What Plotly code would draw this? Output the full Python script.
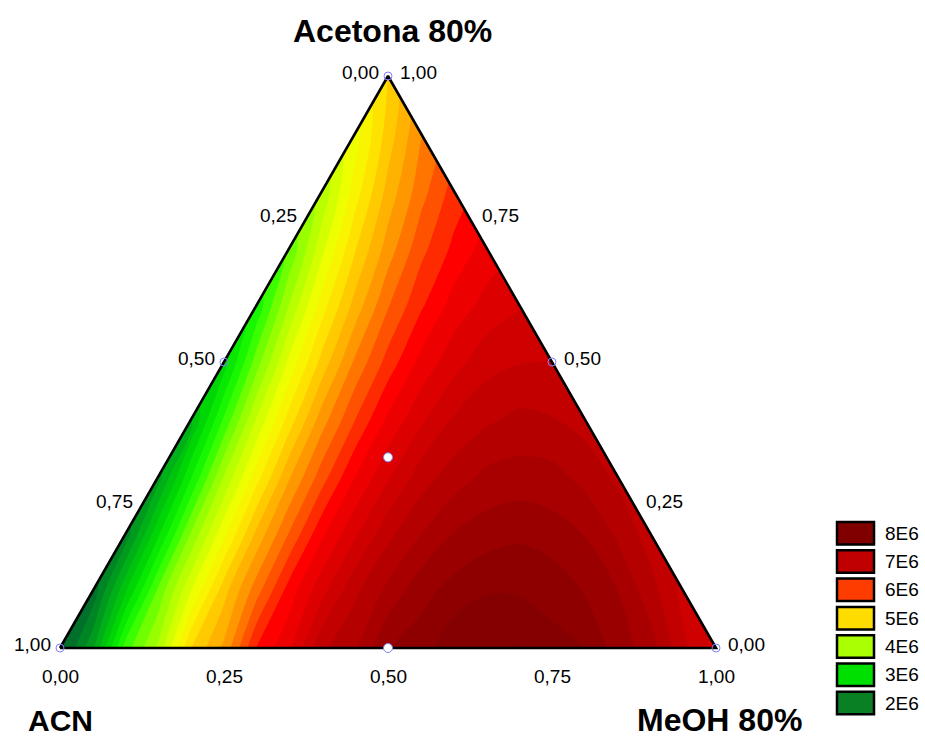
import numpy as np
import plotly.graph_objects as go

# ---------------- data ----------------
# Acetona 80% fraction of each lattice row (0 = bottom edge, 1 = top vertex)
acetona_levels = [0.0, 0.1, 0.2, 0.3, 0.4, 0.5, 0.6, 0.7, 0.8, 0.9, 1.0]
# MeOH 80% fraction step inside each row (starting at 0)
meoh_step = 0.1
# response (x 1E6) read from the chart on the lattice, one list per acetona row,
# MeOH going from 0 up to 1 - acetona
response_rows = [
    [1.70, 3.50, 5.00, 6.22, 7.16, 7.80, 8.16, 8.22, 8.00, 7.50, 6.70],
    [1.87, 3.65, 5.12, 6.30, 7.16, 7.73, 7.99, 7.94, 7.60, 6.94],
    [2.07, 3.82, 5.25, 6.36, 7.14, 7.61, 7.76, 7.59, 7.10],
    [2.31, 4.01, 5.38, 6.40, 7.10, 7.45, 7.47, 7.16],
    [2.59, 4.22, 5.51, 6.44, 7.02, 7.25, 7.12],
    [2.90, 4.46, 5.64, 6.46, 6.92, 7.00],
    [3.25, 4.71, 5.78, 6.48, 6.78],
    [3.63, 4.98, 5.93, 6.48],
    [4.05, 5.27, 6.08],
    [4.51, 5.58],
    [5.00],
]

# design points (ACN, MeOH 80%, Acetona 80%)
design_acn = [1.0, 0.0, 0.0, 0.5, 0.0, 0.5, 1 / 3]
design_meoh = [0.0, 1.0, 0.0, 0.0, 0.5, 0.5, 1 / 3]
design_acetona = [0.0, 0.0, 1.0, 0.5, 0.5, 0.0, 1 / 3]

tick_values = [0.0, 0.25, 0.5, 0.75, 1.0]
tick_labels = ["0,00", "0,25", "0,50", "0,75", "1,00"]

legend_labels = ["8E6", "7E6", "6E6", "5E6", "4E6", "3E6", "2E6"]

title_top = "Acetona 80%"
title_left = "ACN"
title_right = "MeOH 80%"

# ---------------- styles ----------------
legend_colors = ["#800000", "#c00000", "#ff3c00", "#ffdc00", "#aaff00", "#00e000", "#0a8024"]
color_stops = [
    (1.5, "#004a30"), (2.0, "#007a28"), (2.5, "#00b018"), (3.0, "#00e000"),
    (3.4, "#20ff00"), (3.7, "#70ff00"), (4.0, "#aaff00"), (4.5, "#eeff00"),
    (4.8, "#ffee00"), (5.0, "#ffd800"), (5.5, "#ff9800"), (6.0, "#ff4000"),
    (6.3, "#ff0000"), (6.6, "#e40000"), (7.0, "#c80000"), (7.5, "#a80000"),
    (8.0, "#880000"), (8.5, "#780000"),
]
lev_start, lev_end, lev_size = 1.6, 8.4, 0.2
FONT = "Arial, Liberation Sans, sans-serif"

H = np.sqrt(3) / 2
W_PX, H_PX = 925, 737
X0_PX, Y0_PX = 60.0, 648.0          # pixel of (x=0, y=0)
PX_PER_X = 656.0
PX_PER_Y = 572.0 / H
x_range = [(0 - X0_PX) / PX_PER_X, (W_PX - X0_PX) / PX_PER_X]
y_range = [(Y0_PX - H_PX) / PX_PER_Y, Y0_PX / PX_PER_Y]


def cart(a, b, c):
    return b + c / 2.0, c * H


# lattice -> cartesian points for the contour
xs, ys, zs = [], [], []
for c, row in zip(acetona_levels, response_rows):
    for j, val in enumerate(row):
        b = j * meoh_step
        x, y = cart(1 - b - c, b, c)
        xs.append(round(x, 4))
        ys.append(round(y, 6))
        zs.append(val)

# colorscale normalised to plotly's fill colour mapping
nc = int(np.floor((lev_end - lev_start) / lev_size + 1e-6)) + 1
lo = lev_start - lev_size / 2
hi = lev_start + (nc - 0.5) * lev_size
colorscale = [[min(max((v - lo) / (hi - lo), 0), 1), col] for v, col in color_stops]
colorscale[0][0] = 0.0
colorscale[-1][0] = 1.0

fig = go.Figure()
fig.add_trace(go.Contour(
    x=xs, y=ys, z=zs, connectgaps=True,
    colorscale=colorscale, showscale=False,
    contours=dict(start=lev_start, end=lev_end, size=lev_size, coloring="fill", showlines=False),
    line=dict(width=0), hoverinfo="skip",
))

# white masks outside the triangle
e = 0.03
fig.add_trace(go.Scatter(
    x=[0, 0.5, 0.5, -e, -e, 0], y=[0, H, H + e, H + e, -e, 0],
    mode="lines", fill="toself", fillcolor="white", line=dict(width=0, color="white"),
    hoverinfo="skip", showlegend=False,
))
fig.add_trace(go.Scatter(
    x=[1, 0.5, 0.5, 1 + e, 1 + e, 1], y=[0, H, H + e, H + e, -e, 0],
    mode="lines", fill="toself", fillcolor="white", line=dict(width=0, color="white"),
    hoverinfo="skip", showlegend=False,
))
# triangle outline
tx, ty = zip(*[cart(1, 0, 0), cart(0, 1, 0), cart(0, 0, 1), cart(1, 0, 0)])
fig.add_trace(go.Scatter(x=list(tx), y=list(ty), mode="lines",
                         line=dict(color="black", width=2.6), hoverinfo="skip", showlegend=False))

# design points
filled = [5, 6]
px_, py_ = [], []
for a, b, c in zip(design_acn, design_meoh, design_acetona):
    x, y = cart(a, b, c)
    px_.append(x)
    py_.append(y)
hol = [i for i in range(len(px_)) if i not in filled]
fig.add_trace(go.Scatter(x=[px_[i] for i in hol], y=[py_[i] for i in hol], mode="markers",
                         marker=dict(symbol="circle-open", size=8, color="#8080ff", line=dict(width=1)),
                         hoverinfo="skip", showlegend=False, cliponaxis=False))
fig.add_trace(go.Scatter(x=[px_[i] for i in filled], y=[py_[i] for i in filled], mode="markers",
                         marker=dict(symbol="circle", size=9, color="white",
                                     line=dict(width=1, color="#8080ff")),
                         hoverinfo="skip", showlegend=False, cliponaxis=False))

ann = []
tick_font = dict(family=FONT, size=19, color="black")
for t, lab in zip(tick_values, tick_labels):
    # ACN axis on the left edge
    x, y = cart(t, 0, 1 - t)
    ann.append(dict(x=x, y=y, text=lab, showarrow=False, xshift=-28, yshift=4, font=tick_font))
    # Acetona axis on the right edge
    x, y = cart(0, 1 - t, t)
    ann.append(dict(x=x, y=y, text=lab, showarrow=False, xshift=30, yshift=4, font=tick_font))
    # MeOH axis on the bottom edge
    x, y = cart(1 - t, t, 0)
    ann.append(dict(x=x, y=y, text=lab, showarrow=False, yshift=-28, font=tick_font))

title_font = dict(family=FONT, size=32, color="black")
x, y = cart(0, 0, 1)
ann.append(dict(x=x, y=y, text="<b>%s</b>" % title_top, showarrow=False, xshift=4, yshift=45, font=title_font))
x, y = cart(1, 0, 0)
ann.append(dict(x=x, y=y, text="<b>%s</b>" % title_left, showarrow=False, yshift=-72,
                font=dict(family=FONT, size=30, color="black")))
x, y = cart(0, 1, 0)
ann.append(dict(x=x, y=y, text="<b>%s</b>" % title_right, showarrow=False, xshift=3, yshift=-72, font=title_font))

# legend (swatches + labels) in paper coordinates
shapes = []
for i, (lab, col) in enumerate(zip(legend_labels, legend_colors)):
    top = 522 + 28.3 * i
    bot = top + 22.5
    shapes.append(dict(type="rect", xref="paper", yref="paper",
                       x0=837 / W_PX, x1=874 / W_PX, y0=1 - bot / H_PX, y1=1 - top / H_PX,
                       fillcolor=col, line=dict(color="black", width=2.5)))
    ann.append(dict(xref="paper", yref="paper", x=883 / W_PX, y=1 - (top + bot) / 2 / H_PX,
                    xanchor="left", yanchor="middle", text=lab, showarrow=False,
                    font=dict(family=FONT, size=19, color="black")))

fig.update_layout(
    width=W_PX, height=H_PX, margin=dict(l=0, r=0, t=0, b=0),
    paper_bgcolor="white", plot_bgcolor="white",
    xaxis=dict(range=x_range, visible=False, fixedrange=True),
    yaxis=dict(range=y_range, visible=False, fixedrange=True),
    annotations=ann, shapes=shapes, showlegend=False,
)
fig.write_html("out.html")
